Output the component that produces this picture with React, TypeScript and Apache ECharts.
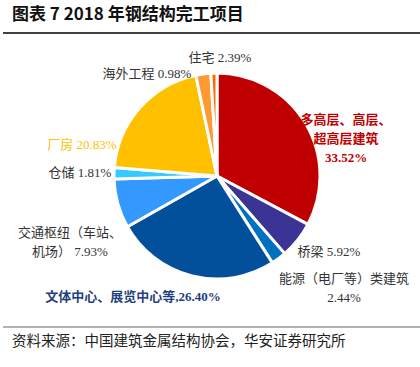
import React, { useEffect, useRef } from "react";
import * as echarts from "echarts";

const categories = [
  "多高层、高层、\n超高层建筑",
  "桥梁",
  "能源（电厂等）类建筑",
  "文体中心、展览中心等",
  "交通枢纽（车站、\n机场）",
  "仓储",
  "厂房",
  "住宅",
  "海外工程",
];
const values = [33.52, 5.92, 2.44, 26.4, 7.93, 1.81, 20.83, 2.39, 0.98];
const colors = ["#C00000", "#3B3494", "#0070C0", "#02509B", "#3399FF", "#33CCFF", "#FFC000", "#FF9933", "#FF6A00"];
const titleText = "图表 7 2018 年钢结构完工项目";
const sourceText = "资料来源：中国建筑金属结构协会，华安证券研究所";

const FONT = "'Liberation Serif', 'Noto Sans CJK SC', serif";

export default function App() {
  const ref = useRef<HTMLDivElement>(null);
  useEffect(() => {
    if (!ref.current) return;
    const chart = echarts.init(ref.current, null, { renderer: "svg" });
    const labelPos: Record<number, [number, number]> = {
      0: [346, 138],
      1: [329, 251],
      2: [344, 288],
      3: [133, 296],
      4: [70, 242],
      5: [80, 172],
      6: [82, 144],
      7: [220, 57],
      8: [147, 73],
    };
    const fmt = (i: number) => {
      const v = values[i].toFixed(2) + "%";
      const n = categories[i];
      if (i === 0) return n + "\n" + v;
      if (i === 2) return n + "\n" + v;
      if (i === 3) return n + "," + v;
      return n + " " + v;
    };
    const labelStyle = (i: number) => {
      if (i === 0) return { color: "#C00000", fontWeight: "bold" as const };
      if (i === 3) return { color: "#1F3F7F", fontWeight: "bold" as const };
      if (i === 6) return { color: "#FFC000" };
      return { color: "#333333" };
    };
    chart.setOption({
      animation: false,
      graphic: [
        {
          type: "text",
          left: 12,
          top: 4,
          style: { text: titleText, font: "bold 17px 'Noto Sans CJK SC', sans-serif", fill: "#111" },
        },
        { type: "line", shape: { x1: 3, y1: 33, x2: 420, y2: 33 }, style: { stroke: "#000", lineWidth: 1.5 } },
        { type: "line", shape: { x1: 3, y1: 327, x2: 420, y2: 327 }, style: { stroke: "#666", lineWidth: 1.2 } },
        {
          type: "text",
          left: 12,
          top: 332,
          style: { text: sourceText, font: "14.5px 'Noto Sans CJK SC', sans-serif", fill: "#222" },
        },
      ],
      series: [
        {
          type: "pie",
          center: [217, 176],
          radius: 103,
          startAngle: 90,
          clockwise: true,
          avoidLabelOverlap: false,
          itemStyle: { borderColor: "#fff", borderWidth: 3 },
          labelLine: { show: false },
          label: {
            show: true,
            fontFamily: FONT,
            fontSize: 13,
            lineHeight: 19,
            align: "center",
            formatter: (p: any) => fmt(p.dataIndex),
          },
          labelLayout: (p: any) => {
            const pos = labelPos[p.dataIndex];
            return { x: pos[0], y: pos[1], align: "center", verticalAlign: "middle" };
          },
          data: values.map((v, i) => ({
            name: categories[i],
            value: v,
            itemStyle: { color: colors[i] },
            label: labelStyle(i),
          })),
        },
      ],
    });
    return () => chart.dispose();
  }, []);
  return <div ref={ref} style={{ position: "fixed", left: 0, top: 0, width: 420, height: 367, background: "#fff" }} />;
}
